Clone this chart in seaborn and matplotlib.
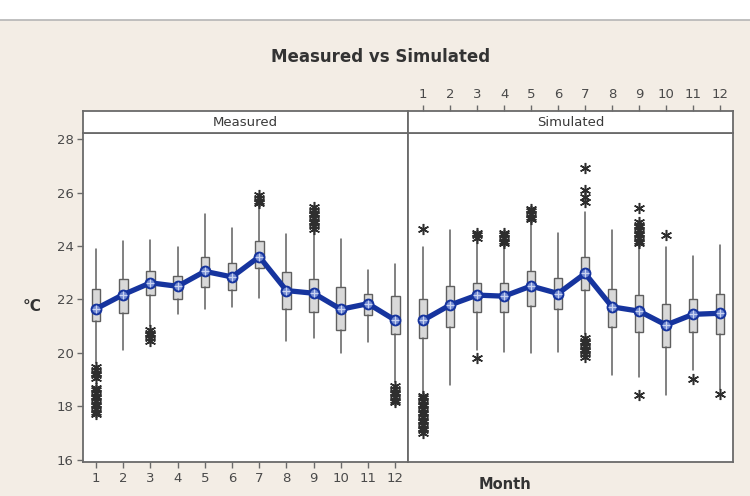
"""
Measured vs Simulated monthly temperature boxplots (Minitab style)
"""

import matplotlib
matplotlib.use("Agg")
import matplotlib.pyplot as plt
from matplotlib.patches import Rectangle
from matplotlib.lines import Line2D
import seaborn as sns

sns.set_style("white")
plt.rcParams["font.family"] = ["DejaVu Sans"]

months = [1, 2, 3, 4, 5, 6, 7, 8, 9, 10, 11, 12]

# Measured
meas_whislo = [19.6, 20.1, 21.0, 21.45, 21.65, 21.7, 22.05, 20.45, 20.55, 20.0, 20.4, 18.9]
meas_q1 = [21.2, 21.5, 22.15, 22.0, 22.45, 22.35, 23.17, 21.65, 21.53, 20.85, 21.4, 20.72]
meas_med = [21.7, 22.2, 22.65, 22.5, 23.05, 22.85, 23.6, 22.35, 22.25, 21.65, 21.85, 21.25]
meas_q3 = [22.4, 22.75, 23.08, 22.86, 23.58, 23.36, 24.17, 23.02, 22.75, 22.46, 22.2, 22.12]
meas_whishi = [23.9, 24.17, 24.22, 23.95, 25.2, 24.66, 25.5, 24.46, 24.55, 24.28, 23.1, 23.32]
meas_mean = [21.65, 22.18, 22.62, 22.49, 23.05, 22.84, 23.6, 22.33, 22.23, 21.63, 21.84, 21.22]
meas_outliers = [
    [19.45, 19.35, 19.25, 19.15, 19.05, 18.7, 18.6, 18.5, 18.4, 18.3, 18.2,
     18.1, 18.0, 17.9, 17.8, 17.7],
    [],
    [20.85, 20.75, 20.65, 20.55, 20.45],
    [],
    [],
    [],
    [25.6, 25.7, 25.8, 25.9],
    [],
    [24.65, 24.75, 24.85, 24.95, 25.05, 25.15, 25.25, 25.35, 25.45],
    [],
    [],
    [18.75, 18.65, 18.55, 18.45, 18.35, 18.25, 18.15],
]

# Simulated
sim_whislo = [18.5, 18.79, 20.1, 20.03, 20.0, 20.03, 20.7, 19.16, 19.1, 18.43, 19.35, 18.65]
sim_q1 = [20.54, 20.95, 21.53, 21.53, 21.76, 21.64, 22.35, 20.95, 20.78, 20.2, 20.78, 20.7]
sim_med = [21.2, 21.8, 22.15, 22.1, 22.5, 22.2, 22.95, 21.7, 21.55, 21.05, 21.45, 21.5]
sim_q3 = [22.0, 22.51, 22.62, 22.62, 23.07, 22.81, 23.57, 22.4, 22.16, 21.81, 22.0, 22.19]
sim_whishi = [23.95, 24.6, 24.2, 24.0, 24.9, 24.47, 25.28, 24.6, 24.03, 23.97, 23.62, 24.03]
sim_mean = [21.22, 21.79, 22.16, 22.12, 22.5, 22.22, 22.97, 21.72, 21.56, 21.04, 21.44, 21.48]
sim_outliers = [
    [24.62, 18.4, 18.3, 18.2, 18.1, 18.0, 17.9, 17.8, 17.7, 17.6, 17.5, 17.4,
     17.3, 17.2, 17.1, 17.0],
    [],
    [24.3, 24.4, 24.5, 19.79],
    [24.1, 24.2, 24.3, 24.4, 24.5],
    [25.0, 25.1, 25.2, 25.3, 25.4],
    [],
    [26.91, 26.1, 25.85, 25.66, 20.55, 20.45, 20.35, 20.25, 20.15, 20.05,
     19.95, 19.85],
    [],
    [25.41, 24.1, 24.2, 24.3, 24.4, 24.5, 24.6, 24.7, 24.8, 24.9, 18.43],
    [24.41],
    [19.0],
    [18.45],
]

panel_names = ["Measured", "Simulated"]
y_ticks = [16, 18, 20, 22, 24, 26, 28]

BG = "#f3ede5"
EDGE = "#5f5f5f"
BLUE = "#16349e"
ASTERISK = (6, 2, 0)


def build_stats(whislo, q1, med, q3, whishi, outliers):
    stats = []
    for i in range(len(months)):
        stats.append({
            "whislo": whislo[i], "q1": q1[i], "med": med[i],
            "q3": q3[i], "whishi": whishi[i], "fliers": outliers[i],
        })
    return stats


def draw_panel(ax, stats, means):
    ax.bxp(
        stats, positions=months, widths=0.32, patch_artist=True,
        showfliers=True, showcaps=False,
        boxprops=dict(facecolor="#d9d9d9", edgecolor=EDGE, linewidth=1.0),
        whiskerprops=dict(color=EDGE, linewidth=1.1),
        medianprops=dict(color=EDGE, linewidth=1.0),
        flierprops=dict(marker=ASTERISK, markersize=8, markeredgecolor="#2e2e2e",
                        markerfacecolor="#2e2e2e", markeredgewidth=1.1, linestyle="none"),
    )
    sns.lineplot(x=months, y=means, ax=ax, color=BLUE, linewidth=3.8,
                 marker="o", markersize=7, markerfacecolor="#7088d0",
                 markeredgecolor=BLUE, markeredgewidth=1.5, zorder=5)
    sns.scatterplot(x=months, y=means, ax=ax, marker="+", s=30, color="#c9d3f0",
                    linewidth=0.9, zorder=6, legend=False)
    ax.set_facecolor("white")
    ax.set_ylim(15.91, 28.22)
    ax.set_xlabel("")
    ax.set_ylabel("")
    for sp in ax.spines.values():
        sp.set_color("#6a6a6a")
        sp.set_linewidth(1.3)


fig = plt.figure(figsize=(7.5, 4.96), dpi=100)
fig.patch.set_facecolor(BG)
fig.patches.append(Rectangle((0, 476 / 496), 1, 20 / 496, transform=fig.transFigure,
                             facecolor="white", edgecolor="none", zorder=0))
fig.lines.append(Line2D([0, 1], [476 / 496, 476 / 496], transform=fig.transFigure,
                        color="#b5b5b5", linewidth=1.2))

ax_bottom, ax_height = 34 / 496, 328.7 / 496
head_bottom, head_height = 362.7 / 496, 22.3 / 496
left_x, mid_x, right_x = 83.3 / 750, 408 / 750, 733 / 750

ax_m = fig.add_axes([left_x, ax_bottom, mid_x - left_x, ax_height])
ax_s = fig.add_axes([mid_x, ax_bottom, right_x - mid_x, ax_height])
hd_m = fig.add_axes([left_x, head_bottom, mid_x - left_x, head_height])
hd_s = fig.add_axes([mid_x, head_bottom, right_x - mid_x, head_height])

draw_panel(ax_m, build_stats(meas_whislo, meas_q1, meas_med, meas_q3, meas_whishi, meas_outliers),
           meas_mean)
draw_panel(ax_s, build_stats(sim_whislo, sim_q1, sim_med, sim_q3, sim_whishi, sim_outliers),
           sim_mean)

ax_m.set_xlim(0.53, 12.47)
ax_s.set_xlim(0.44, 12.48)

ax_m.set_yticks(y_ticks)
ax_m.set_xticks(months)
ax_m.set_xticklabels([str(m) for m in months])
ax_m.tick_params(axis="both", direction="out", length=4, width=1, color="#6a6a6a",
                 labelcolor="#4a4a4a", labelsize=9.5, pad=3)
ax_m.tick_params(axis="x", bottom=True, top=False)
ax_m.tick_params(axis="y", left=True, right=False)

ax_s.set_yticks(y_ticks)
ax_s.set_yticklabels([])
ax_s.set_xticks(months)
ax_s.tick_params(axis="both", length=0, labelbottom=False, labelleft=False)

for hd, name, ax in [(hd_m, panel_names[0], ax_m), (hd_s, panel_names[1], ax_s)]:
    hd.set_facecolor("white")
    hd.set_xlim(ax.get_xlim())
    hd.set_ylim(0, 1)
    hd.set_yticks([])
    for sp in hd.spines.values():
        sp.set_color("#6a6a6a")
        sp.set_linewidth(1.3)
    hd.text(0.5, 0.5, name, transform=hd.transAxes, ha="center", va="center",
            fontsize=9.5, color="#3a3a3a")

hd_m.set_xticks([])
hd_s.set_xticks(months)
hd_s.set_xticklabels([str(m) for m in months])
hd_s.tick_params(axis="x", top=True, bottom=False, labeltop=True, labelbottom=False,
                 direction="out", length=4, width=1, color="#6a6a6a",
                 labelcolor="#4a4a4a", labelsize=9.5, pad=3)

fig.text(0.508, 0.885, "Measured vs Simulated", ha="center", va="center",
         fontsize=12, fontweight="bold", color="#333333")
fig.text(0.043, 0.383, "°C", ha="center", va="center", fontsize=11,
         fontweight="bold", color="#333333")
fig.text(0.673, 0.024, "Month", ha="center", va="center", fontsize=10.5,
         fontweight="bold", color="#333333")

fig.savefig("out.png", dpi=100, facecolor=fig.get_facecolor())
plt.close(fig)
